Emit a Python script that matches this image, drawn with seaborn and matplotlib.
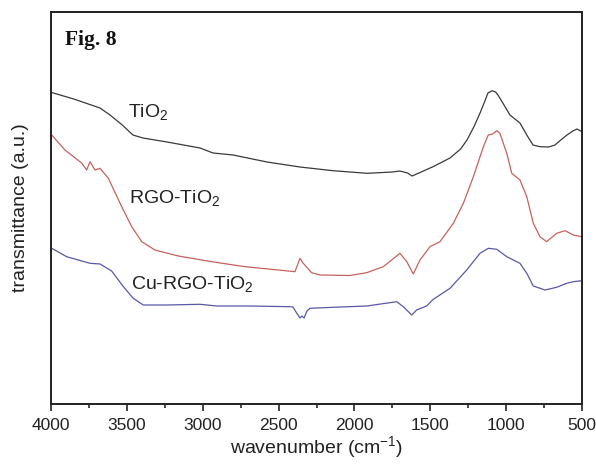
import numpy as np
import pandas as pd
import matplotlib
matplotlib.use("Agg")
import matplotlib.pyplot as plt
import seaborn as sns

# FTIR spectra (wavenumber in cm^-1, transmittance in arbitrary units)
tio2_wn = [4000, 3850, 3677, 3611, 3530, 3460, 3394, 3235, 3018, 2932, 2800, 2576, 2359, 2141,
           1917, 1750, 1700, 1650, 1620, 1560, 1482, 1370, 1300, 1258, 1210, 1172, 1140, 1120,
           1093, 1070, 1054, 1010, 975, 909, 860, 823, 777, 720, 678, 640, 599, 560, 533, 500]
tio2_t = [311.7, 305, 296, 289, 279, 269, 266, 262, 256, 251, 249, 242, 237, 233.3,
          230.7, 232, 233, 231, 228, 232, 237.3, 246, 255, 264, 278, 291, 303, 311,
          313.3, 312, 309, 298, 289, 281, 268, 259, 257.3, 257, 259, 264, 269, 273, 275, 272.3]

rgo_wn = [3995, 3908, 3798, 3765, 3743, 3710, 3677, 3622, 3534, 3468, 3402, 3315,
          3161, 2941, 2721, 2502, 2392, 2359, 2339, 2282, 2227, 2029, 1919, 1810,
          1700, 1655, 1612, 1568, 1502, 1436, 1348, 1282, 1216, 1150, 1118, 1089,
          1062, 1041, 996, 963, 909, 864, 821, 777, 733, 667, 612, 557, 502]
rgo_t = [269, 254, 241, 234, 242.3, 234, 235.7, 225.7, 197.3, 177.3, 162.3, 154,
         148, 142.3, 137.3, 134, 132.3, 145.7, 141, 131.3, 129, 128.5, 131.3, 137.3,
         150.7, 142.3, 130, 144, 157.3, 162.3, 180.7, 200.7, 227.3, 257.3, 269, 270,
         273.3, 270.7, 250.7, 230.7, 224, 207.3, 180.7, 167.3, 162.3, 170.7, 173.3, 169, 167.3]

cu_wn = [3995, 3897, 3820, 3743, 3677, 3600, 3523, 3458, 3392, 3237, 3018, 2908,
         2688, 2425, 2405, 2385, 2359, 2346, 2332, 2313, 2293, 2141, 1919, 1721,
         1678, 1622, 1590, 1524, 1480, 1370, 1260, 1172, 1118, 1062, 996, 909,
         864, 821, 744, 667, 601, 557, 502]
cu_t = [155.7, 147.3, 144, 140.7, 140, 133, 117.3, 105.7, 99, 99, 99.7, 98,
        98, 97.3, 97, 92, 86, 88, 86, 93, 95.7, 96.7, 98, 102.3,
        97.3, 89, 94, 98, 104.7, 115.7, 134, 150.7, 155.7, 154.7, 147.3, 140.7,
        130.7, 118, 114, 116.7, 120.7, 122.3, 123.3]

sample_names = ["TiO$_\\mathregular{2}$", "RGO-TiO$_\\mathregular{2}$", "Cu-RGO-TiO$_\\mathregular{2}$"]
line_colors = ["#3a3a3a", "#c4625e", "#5858a8"]

frames = []
for name, wn, t in zip(sample_names, [tio2_wn, rgo_wn, cu_wn], [tio2_t, rgo_t, cu_t]):
    frames.append(pd.DataFrame({"wavenumber": wn, "T": t, "sample": name}))
spectra = pd.concat(frames, ignore_index=True)

sns.set_style("ticks")
plt.rcParams["font.family"] = ["Liberation Sans", "DejaVu Sans"]

fig = plt.figure(figsize=(5.96, 4.69), dpi=100)
ax = fig.add_axes([51 / 596, 1 - 404 / 469, 531 / 596, 392 / 469])

sns.lineplot(data=spectra, x="wavenumber", y="T", hue="sample",
             palette=dict(zip(sample_names, line_colors)), estimator=None,
             sort=False, linewidth=0.9, legend=False, ax=ax)

ax.set_xlim(4000, 500)
ax.set_ylim(0, 392)
ax.set_xticks([4000, 3500, 3000, 2500, 2000, 1500, 1000, 500])
ax.set_xticks(np.arange(3750, 500, -500), minor=True)
ax.set_yticks([])
ax.tick_params(axis="x", which="major", direction="out", length=5, width=1.2,
               labelsize=12.5, pad=5, colors="#222222")
ax.tick_params(axis="x", which="minor", direction="out", length=3, width=1.2)
for s in ax.spines.values():
    s.set_linewidth(1.4)
    s.set_color("#222222")

ax.set_xlabel("wavenumber (cm$^{\\mathregular{-1}}$)", fontsize=14, labelpad=1, color="#222222")
ax.set_ylabel("transmittance (a.u.)", fontsize=14, labelpad=16, color="#222222")

# curve labels
for name, wn, t in zip(sample_names, [3492, 3486, 3473], [286, 200, 114]):
    ax.text(wn, t, name, fontsize=14, color="#222222", ha="left", va="baseline")

ax.text(0.026, 0.915, "Fig. 8", transform=ax.transAxes, fontsize=15.5,
        fontweight="bold", family=["Liberation Serif", "DejaVu Serif"],
        ha="left", va="baseline", color="#111111")

fig.savefig("out.png", dpi=100)
